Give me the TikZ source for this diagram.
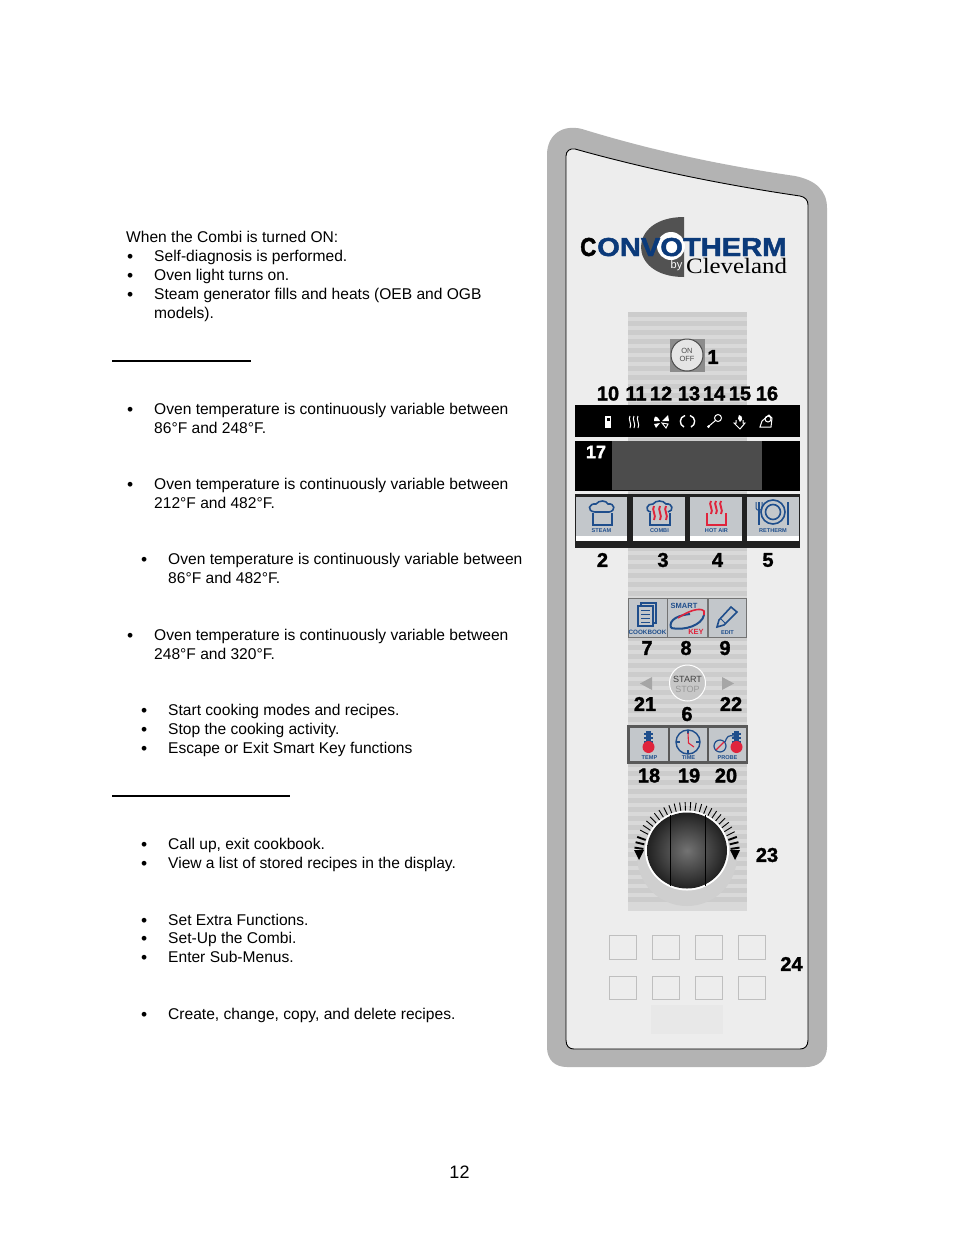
\documentclass[tikz,border=0pt]{standalone}
\usepackage{fontspec}
\setmainfont{Liberation Sans}
\newfontfamily\serifface{Liberation Serif}
\newfontfamily\heavyface[BoldFeatures={FakeBold=1.6}]{Liberation Sans}
\usepackage{tikz}

\definecolor{panelgray}{HTML}{B3B3B3}
\definecolor{faceplate}{HTML}{EDEDED}
\definecolor{keyblue}{HTML}{1F4E8C}
\definecolor{keyred}{HTML}{E0243C}
\definecolor{keygray}{HTML}{C3C7CB}
\definecolor{logoblue}{HTML}{0B3A7A}

\tikzset{
	bodytext/.style={anchor=base west,inner sep=0pt,font=\fontsize{15.58}{19}\selectfont},
	bulletmark/.style={anchor=base west,inner sep=0pt,text height=9pt,text depth=0pt,font=\fontsize{17.5}{18}\selectfont},
	numlabel/.style={inner sep=0pt,font=\heavyface\fontsize{20}{20}\selectfont\bfseries},
	keytext/.style={inner sep=0pt,text=keyblue,font=\fontsize{5.6}{6}\selectfont\bfseries},
	keyface/.style={fill=keygray,draw=none},
	icon/.style={draw=keyblue,line width=1.6pt},
	hoticon/.style={draw=keyred,line width=1.9pt},
	statusicon/.style={draw=white,line width=1pt},
	softkey/.style={draw=black!25,fill=faceplate,line width=0.8pt}
}

\begin{document}
\begin{tikzpicture}[x=1pt,y=-1pt]

	\useasboundingbox[fill=white] (0,0) rectangle (954,1235);

	% text column
	\node[bodytext] (intro) at (126,242) {When the Combi is turned ON:};
	\node[bodytext] (introa) at (154,261) {Self-diagnosis is performed.};
	\node[bodytext] (introb) at (154,280) {Oven light turns on.};
	\node[bodytext] (introc) at (154,299) {Steam generator fills and heats (OEB and OGB};
	\node[bodytext] (introd) at (154,318) {models).};

	\node[bodytext] (steama) at (154,414) {Oven temperature is continuously variable between};
	\node[bodytext] (steamb) at (154,433) {86°F and 248°F.};
	\node[bodytext] (hota) at (154,489) {Oven temperature is continuously variable between};
	\node[bodytext] (hotb) at (154,508) {212°F and 482°F.};
	\node[bodytext] (combia) at (168,564) {Oven temperature is continuously variable between};
	\node[bodytext] (combib) at (168,583) {86°F and 482°F.};
	\node[bodytext] (retha) at (154,640) {Oven temperature is continuously variable between};
	\node[bodytext] (rethb) at (154,659) {248°F and 320°F.};

	\node[bodytext] (starta) at (168,715) {Start cooking modes and recipes.};
	\node[bodytext] (startb) at (168,734) {Stop the cooking activity.};
	\node[bodytext] (startc) at (168,753) {Escape or Exit Smart Key functions};

	\node[bodytext] (booka) at (168,849) {Call up, exit cookbook.};
	\node[bodytext] (bookb) at (168,868) {View a list of stored recipes in the display.};
	\node[bodytext] (smarta) at (168,925) {Set Extra Functions.};
	\node[bodytext] (smartb) at (168,943) {Set-Up the Combi.};
	\node[bodytext] (smartc) at (168,962) {Enter Sub-Menus.};
	\node[bodytext] (edita) at (168,1019) {Create, change, copy, and delete recipes.};

	\foreach \bx/\by in {127/261,127/280,127/299,127/414,127/489,141/564,127/640,141/715,141/734,141/753,141/849,141/868,141/925,141/943,141/962,141/1019}
		\node[bulletmark] (bullet\by) at (\bx,\by+1.5) {•};

	\fill[black] (112,360) rectangle (251,362);
	\fill[black] (112,795) rectangle (290,797);

	\node[inner sep=0pt,font=\fontsize{18}{18}\selectfont] (pagenum) at (459.5,1172) {12};

	% panel body
	\fill[panelgray] (547,155) .. controls (547,135) and (562,124) .. (582,129)
		.. controls (650,150) and (720,165) .. (795,176)
		.. controls (815,180) and (827,190) .. (827,208)
		-- (827,1047) .. controls (827,1060) and (818,1067) .. (806,1067)
		-- (567,1067) .. controls (555,1067) and (547,1060) .. (547,1047) -- cycle;
	\filldraw[fill=faceplate,draw=black,line width=0.9pt] (566,156) .. controls (566,151) and (570,148) .. (575,149)
		.. controls (650,170) and (725,185) .. (800,196)
		.. controls (805,197) and (808,200) .. (808,205)
		-- (808,1040) .. controls (808,1046) and (805,1049) .. (800,1049)
		-- (574,1049) .. controls (569,1049) and (566,1046) .. (566,1040) -- cycle;

	% logo
	\fill[black!68] (684,217) .. controls (655,217) and (641,232) .. (641,247)
		.. controls (641,262) and (655,277) .. (684,277) -- cycle;
	\fill[white] (671,246) circle (14pt);
	\node[inner sep=0pt,anchor=base west,text height=19pt,text depth=0pt] (logoc) at (580,256) {\scalebox{0.86}[1.0]{\heavyface\fontsize{26}{26}\selectfont\bfseries C}};
	\node[inner sep=0pt,anchor=base west,text=logoblue,text height=19pt,text depth=0pt] (logoname) at (597,256) {\scalebox{1.12}[1.0]{\heavyface\fontsize{26}{26}\selectfont\bfseries ONVOTHERM}};
	\node[inner sep=0pt,text=white,font=\fontsize{11}{11}\selectfont] (logoby) at (676.5,266) {by};
	\node[inner sep=0pt,anchor=base west,text height=14pt] (logocity) at (686,273) {\scalebox{1.13}[1.0]{\serifface\fontsize{22}{22}\selectfont Cleveland}};

	% striped band
	\fill[black!15] (628,312) rectangle (747,911);
	\foreach \sy in {312,321,...,905}
		\fill[black!20] (628,\sy) rectangle (747,\sy+4.5);

	% on/off key
	\fill[black!45] (670,339) rectangle (705,372);
	\node[circle,draw=black!70,fill=black!10,line width=1pt,minimum size=32pt,inner sep=0pt,align=center,font=\fontsize{7.5}{8.5}\selectfont,text=black!70] (onoff) at (687,355) {ON\\OFF};
	\node[numlabel] (n1) at (713,357) {1};

	\node[numlabel] (n10) at (608,393.5) {10};
	\node[numlabel] (n11) at (636,393.5) {11};
	\node[numlabel] (n12) at (661,393.5) {12};
	\node[numlabel] (n13) at (689,393.5) {13};
	\node[numlabel] (n14) at (714,393.5) {14};
	\node[numlabel] (n15) at (740,393.5) {15};
	\node[numlabel] (n16) at (767,393.5) {16};

	% display blocks
	\fill[black] (575,405) rectangle (800,437);
	\fill[black] (575,441) rectangle (800,491);
	\fill[black!70] (612,441) rectangle (762,490);
	\fill[black!87] (575,494) rectangle (800,548);
	\node[numlabel,text=white,font=\heavyface\fontsize{18}{18}\selectfont\bfseries] (n17) at (596,452) {17};

	% status symbols
	\fill[white] (605,416) rectangle (611,428);
	\fill[black] (606.5,417.5) rectangle (609.5,421);
	\foreach \wx in {630,634,638}
		\draw[statusicon] (\wx,416) .. controls (\wx-2.5,419) and (\wx+2.5,424) .. (\wx,428);
	\fill[white] (660,421) .. controls (656,414) and (654,416) .. (654,421) -- cycle;
	\fill[white] (662,421) -- (668,415) -- (669,421) -- cycle;
	\fill[white] (660,423) -- (654,424) -- (656,428) -- cycle;
	\draw[statusicon] (662,423) -- (668,424) -- (666,428) -- cycle;
	\draw[statusicon,line width=1.4pt] (685,415.5) .. controls (679,417) and (679,425) .. (684,427);
	\draw[statusicon,line width=1.4pt] (690,415.5) .. controls (696,417) and (696,425) .. (691,427);
	\draw[statusicon] (718,418) circle (3.5pt);
	\draw[statusicon] (715.5,420.5) -- (709,426);
	\fill[white] (708.5,426.5) circle (1.5pt);
	\draw[statusicon] (736,420) -- (736,423) -- (734,423) -- (740,429) -- (745,423) -- (743,423) -- (743,420);
	\fill[white] (739,415) .. controls (743,416) and (743,420) .. (740,422) .. controls (738,420) and (737,417) .. (739,415) -- cycle;
	\draw[statusicon] (762,421) -- (769,415) -- (772,418) -- (771,427) -- (760,427) -- cycle;
	\draw[statusicon] (768,419) circle (3pt);

	% mode keys
	\filldraw[keyface] (576,497) rectangle (627,541);
	\filldraw[keyface] (633,497) rectangle (685,541);
	\filldraw[keyface] (690,497) rectangle (742,541);
	\filldraw[keyface] (747,497) rectangle (799,541);
	\foreach \kx/\kw in {576/51,633/52,690/52,747/52}
		\fill[white] (\kx,536) rectangle (\kx+\kw,541);

	\node[keytext] (steamlbl) at (601.5,531) {STEAM};
	\node[keytext] (combilbl) at (659.5,531) {COMBI};
	\node[keytext] (hotlbl) at (716.5,531) {HOT AIR};
	\node[keytext] (rethlbl) at (773,531) {RETHERM};

	\draw[icon] (593,513) -- (593,525) -- (612,525) -- (612,513);
	\draw[icon] (595,512) .. controls (586,511) and (589,503) .. (596,504)
		.. controls (599,500) and (606,500) .. (608,504)
		.. controls (615,503) and (616,511) .. (609,512) -- cycle;

	\draw[icon] (650,513) -- (650,525) -- (670,525) -- (670,513);
	\draw[icon] (651,512) .. controls (644,511) and (647,503) .. (653,504)
		.. controls (656,500) and (663,500) .. (666,504)
		.. controls (673,503) and (674,511) .. (668,512);
	\foreach \wx in {654,660,666}
		\draw[hoticon] (\wx,506) .. controls (\wx-3,510) and (\wx+3,515) .. (\wx,520);

	\draw[hoticon] (707,513) -- (707,525) -- (726,525) -- (726,513);
	\foreach \wx in {711,716,721}
		\draw[hoticon] (\wx,501) .. controls (\wx-3,504) and (\wx+3,510) .. (\wx,514);

	\draw[icon] (773,512) circle (12pt);
	\draw[icon] (773,512) circle (7.5pt);
	\draw[icon,line width=1.8pt] (759,510) -- (759,525);
	\draw[icon,line width=1pt] (756,502) -- (756,508) .. controls (756,511) and (762,511) .. (762,508) -- (762,502);
	\draw[icon] (759,502) -- (759,510);
	\draw[icon,line width=2.4pt] (788,502) -- (788,525);

	\node[numlabel] (n2) at (602.5,560) {2};
	\node[numlabel] (n3) at (663,560) {3};
	\node[numlabel] (n4) at (717.5,560) {4};
	\node[numlabel] (n5) at (768,560) {5};

	% cookbook, smart key, edit
	\fill[black!55] (627.5,598) rectangle (746.5,638);
	\filldraw[keyface] (628.5,599) rectangle (667,637);
	\filldraw[keyface] (668,599) rectangle (707,637);
	\filldraw[keyface] (709,599) rectangle (746,637);
	\draw[icon] (641,606) -- (641,603) -- (656,603) -- (656,623) -- (653,623);
	\filldraw[icon,fill=keygray] (638,606) rectangle (653,626);
	\foreach \ly in {610,614,618,622}
		\draw[icon,line width=0.9pt] (641,\ly) -- (650,\ly);
	\node[keytext,font=\fontsize{6.3}{7}\selectfont\bfseries] (booklbl) at (647.5,632.5) {COOKBOOK};
	\node[keytext,font=\fontsize{7.5}{8}\selectfont\bfseries] (smartlbl) at (684,605.5) {SMART};
	\node[keytext,text=keyred,font=\fontsize{7.5}{8}\selectfont\bfseries] (keylbl) at (696,631.5) {KEY};
	\draw[keyblue,line width=2pt] (671,628) .. controls (668,619) and (680,615) .. (690,614);
	\draw[keyblue,line width=2pt] (671,628) .. controls (685,631) and (702,625) .. (704,615);
	\draw[keyred,line width=1.6pt] (678,618) .. controls (688,611) and (700,607) .. (704,611) -- (704,615);
	\filldraw[icon,fill=keygray] (719,620) -- (731,607) -- (737,612) -- (724,625) -- (717,627) -- cycle;
	\draw[icon,line width=0.9pt] (721,619) -- (726,624);
	\node[keytext] (editlbl) at (727.5,632.5) {EDIT};

	\node[numlabel] (n7) at (647,648) {7};
	\node[numlabel] (n8) at (686,648) {8};
	\node[numlabel] (n9) at (725,648) {9};

	% start key and arrows
	\node[circle,draw=white,fill=black!22,line width=1pt,minimum size=36pt,inner sep=0pt] (startkey) at (687.5,683) {};
	\node[inner sep=0pt,align=center,font=\fontsize{9}{9.5}\selectfont] (startlbl) at (687.5,684.5) {\textcolor{black!75}{START}\\\textcolor{black!40}{STOP}};
	\fill[black!35] (652,677) -- (640,683.5) -- (652,690) -- cycle;
	\fill[black!35] (722,677) -- (734,683.5) -- (722,690) -- cycle;
	\node[numlabel] (n21) at (645,704) {21};
	\node[numlabel] (n22) at (731,704) {22};
	\node[numlabel] (n6) at (687,714) {6};

	% temp, time, probe
	\fill[black!65] (627,725) rectangle (748,764);
	\filldraw[keyface] (630,728) rectangle (668,761);
	\filldraw[keyface] (670,728) rectangle (707,761);
	\filldraw[keyface] (709,728) rectangle (746,761);
	\fill[keyblue] (646,731) rectangle (651,745);
	\draw[icon,line width=1.2pt] (644,734) -- (653,734) (644,738) -- (653,738) (644,742) -- (653,742);
	\fill[keyred] (648.5,747) circle (6pt);
	\node[keytext] (templbl) at (649.5,757.5) {TEMP};
	\node[circle,draw=keyblue,line width=1.4pt,minimum size=24pt,inner sep=0pt] (clockface) at (688,742) {};
	\draw[icon,line width=1.2pt] (676,742) -- (680,742) (696,742) -- (700,742) (688,730) -- (688,734) (688,750) -- (688,754);
	\draw[hoticon,line width=1.1pt] (688,733) -- (688.5,743) -- (694,747);
	\node[keytext] (timelbl) at (688.5,757.5) {TIME};
	\fill[keyblue] (734,731) rectangle (739,745);
	\draw[icon,line width=1.2pt] (732,734) -- (741,734) (732,738) -- (741,738) (732,742) -- (741,742);
	\fill[keyred] (736.5,747) circle (6pt);
	\draw[icon,line width=1.2pt] (720,746) circle (6pt);
	\draw[icon,line width=1.2pt] (725,742) .. controls (727,736) and (729,735) .. (734,736);
	\draw[hoticon,line width=1.1pt] (716,750) -- (724,742);
	\node[keytext] (probelbl) at (727.5,757.5) {PROBE};

	\node[numlabel] (n18) at (649,775.5) {18};
	\node[numlabel] (n19) at (689,775.5) {19};
	\node[numlabel] (n20) at (726,775.5) {20};

	% knob
	\fill[black!19] (687,856) circle (50pt);
	\coordinate (knob) at (687,855);
	\foreach \ta in {26,32,...,154}
		\draw[black,line width=0.9pt] ([shift={(\ta:44pt)}]knob) -- ([shift={(\ta:53pt)}]knob);
	\foreach \ta in {8,14,20,160,166,172}
		\draw[black,line width=1.9pt] ([shift={(\ta:44pt)}]knob) -- ([shift={(\ta:53pt)}]knob);
	\fill[white] (687,850.5) ellipse (42pt and 40pt);
	\shade[inner color=black!55,outer color=black!87] (687,850.5) ellipse (40pt and 38pt);
	\draw[black,line width=1pt] (670,815) -- (670,886);
	\draw[black,line width=1pt] (705,815) -- (705,886);
	\fill[black] (634,850) -- (644,850) -- (639,860) -- cycle;
	\fill[black] (730,850) -- (740,850) -- (735,860) -- cycle;
	\node[numlabel] (n23) at (767,855) {23};

	% blank keys
	\foreach \px in {609,652,695,738} {
		\filldraw[softkey] (\px,935) rectangle (\px+27,959);
		\filldraw[softkey] (\px,976) rectangle (\px+27,999);
	}
	\fill[black!9] (651,1005) rectangle (723,1034);
	\node[numlabel] (n24) at (791.5,964) {24};

\end{tikzpicture}
\end{document}
